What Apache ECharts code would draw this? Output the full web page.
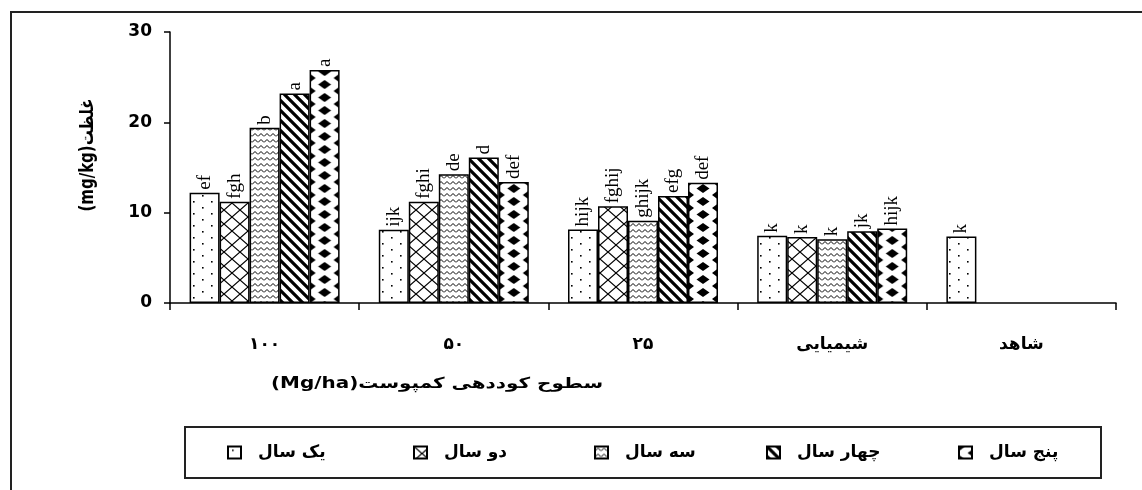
<!DOCTYPE html>
<html>
<head>
<meta charset="utf-8">
<script src="https://cdn.jsdelivr.net/npm/echarts@6/dist/echarts.min.js"></script>
<style>
html,body{margin:0;padding:0;background:#fff;}
#chart{width:1142px;height:490px;}
</style>
</head>
<body>
<div id="chart"></div>
<script>
// ---- data ----
const categories = ['۱۰۰', '۵۰', '۲۵', 'شیمیایی', 'شاهد'];
const seriesNames = ['یک سال', 'دو سال', 'سه سال', 'چهار سال', 'پنج سال'];
const year1 = [12.2, 8.1, 8.15, 7.45, 7.35];
const year2 = [11.2, 11.2, 10.7, 7.3, null];
const year3 = [19.4, 14.25, 9.1, 7.05, null];
const year4 = [23.2, 16.1, 11.85, 7.95, null];
const year5 = [25.8, 13.4, 13.3, 8.25, null];
const letters1 = ['ef', 'ijk', 'hijk', 'k', 'k'];
const letters2 = ['fgh', 'fghi', 'fghij', 'k', ''];
const letters3 = ['b', 'de', 'ghijk', 'k', ''];
const letters4 = ['a', 'd', 'efg', 'jk', ''];
const letters5 = ['a', 'def', 'def', 'hijk', ''];
const yTicks = [0, 10, 20, 30];
const yTitle = '(mg/kg)غلظت';
const xTitle = '(Mg/ha)سطوح کوددهی کمپوست';

// ---- patterns ----
function pat(w, h, draw) {
  const c = document.createElement('canvas');
  c.width = w; c.height = h;
  const g = c.getContext('2d');
  g.fillStyle = '#fff'; g.fillRect(0, 0, w, h);
  g.strokeStyle = '#000'; g.fillStyle = '#000';
  draw(g, w, h);
  return { image: c, repeat: 'repeat' };
}
const BAR_W = 30;
const patterns = [
  pat(18, 12, (g) => { g.fillRect(4, 3, 1.6, 1.6); g.fillRect(13, 9, 1.6, 1.6); }),
  pat(16, 14, (g, w, h) => {
    g.lineWidth = 1.2;
    g.beginPath();
    g.moveTo(0, 0); g.lineTo(w, h);
    g.moveTo(w, 0); g.lineTo(0, h);
    g.stroke();
  }),
  pat(6, 6, (g) => {
    g.lineWidth = 1;
    g.beginPath();
    g.moveTo(0, 4.5); g.lineTo(3, 1.5); g.lineTo(6, 4.5);
    g.stroke();
  }),
  pat(10, 10, (g, w) => {
    g.lineWidth = 3.2;
    g.beginPath();
    for (let k = -1; k <= 1; k++) { g.moveTo(k * w - 2, -2); g.lineTo(k * w + w + 2, w + 2); }
    g.stroke();
  }),
  pat(30, 13, (g, w, h) => {
    const dia = (cx, cy, hw, hh) => {
      g.beginPath();
      g.moveTo(cx - hw, cy); g.lineTo(cx, cy - hh); g.lineTo(cx + hw, cy); g.lineTo(cx, cy + hh);
      g.closePath(); g.fill();
    };
    dia(w / 2, h / 2, 6.5, 4.5);
    dia(0, 0, 6, 4.5); dia(w, 0, 6, 4.5); dia(0, h, 6, 4.5); dia(w, h, 6, 4.5);
  })
];

const values = [year1, year2, year3, year4, year5];
const letters = [letters1, letters2, letters3, letters4, letters5];

const series = seriesNames.map((name, i) => ({
  name: name,
  type: 'bar',
  barWidth: BAR_W,
  barGap: '0%',
  data: values[i],
  itemStyle: { color: patterns[i], borderColor: '#000', borderWidth: 1.5 },
  emphasis: { disabled: true },
  label: {
    show: true,
    position: 'top',
    rotate: 90,
    align: 'left',
    verticalAlign: 'middle',
    distance: 3,
    fontFamily: 'Liberation Serif',
    fontSize: 19,
    color: '#000',
    formatter: (p) => letters[i][p.dataIndex] || ''
  }
}));

const legendLefts = [227, 413, 594, 766, 958];
const legends = seriesNames.map((name, i) => ({
  data: [name],
  left: legendLefts[i],
  top: 444,
  padding: 0,
  itemWidth: 13,
  itemHeight: 12,
  icon: 'rect',
  selectedMode: false,
  textStyle: {
    fontFamily: 'DejaVu Sans',
    fontWeight: 'bold',
    fontSize: 17,
    color: '#000',
    padding: [0, 0, 0, 12]
  }
}));

const chart = echarts.init(document.getElementById('chart'));
chart.setOption({
  animation: false,
  backgroundColor: '#fff',
  grid: { left: 170, right: 26, top: 32, bottom: 187, containLabel: false },
  xAxis: {
    type: 'category',
    data: categories,
    axisLine: { lineStyle: { color: '#000', width: 1.5 } },
    axisTick: { show: true, length: 7, lineStyle: { color: '#000', width: 1.5 } },
    axisLabel: {
      margin: 33,
      fontFamily: 'DejaVu Sans',
      fontWeight: 'bold',
      fontSize: 17,
      color: '#000'
    }
  },
  yAxis: {
    type: 'value',
    min: yTicks[0],
    max: yTicks[yTicks.length - 1],
    interval: 10,
    splitLine: { show: false },
    axisLine: { show: true, lineStyle: { color: '#000', width: 1.5 } },
    axisTick: { show: true, length: 6, lineStyle: { color: '#000', width: 1.5 } },
    axisLabel: {
      margin: 18,
      fontFamily: 'DejaVu Sans',
      fontWeight: 'bold',
      fontSize: 17,
      color: '#000'
    }
  },
  legend: legends,
  series: series,
  graphic: [
    { type: 'rect', silent: true, shape: { x: 11, y: 12, width: 1200, height: 600 },
      style: { fill: 'none', stroke: '#222', lineWidth: 2 } },
    { type: 'rect', silent: true, shape: { x: 185, y: 427, width: 916, height: 51 },
      style: { fill: 'none', stroke: '#222', lineWidth: 2 } },
    { type: 'text', silent: true, x: 88, y: 155, rotation: Math.PI / 2, scaleY: 1.25,
      style: { text: yTitle, font: 'bold 15px "DejaVu Sans"', fill: '#000', align: 'center', verticalAlign: 'middle' } },
    { type: 'text', silent: true, x: 437, y: 384, scaleX: 1.33,
      style: { text: xTitle, font: 'bold 15px "DejaVu Sans"', fill: '#000', align: 'center', verticalAlign: 'middle' } }
  ]
});

// align the diamond pattern of the 5th series to each bar, using the axis scale
const nSeries = seriesNames.length;
const alignedData = year5.map((v, c) => {
  const center = chart.convertToPixel({ xAxisIndex: 0 }, c);
  const barCenter = center + (nSeries - 1 - (nSeries - 1) / 2) * BAR_W;
  return {
    value: v,
    itemStyle: { color: Object.assign({}, patterns[4], { x: barCenter - BAR_W / 2 }) }
  };
});
chart.setOption({ series: [{}, {}, {}, {}, { data: alignedData }] });
</script>
</body>
</html>
